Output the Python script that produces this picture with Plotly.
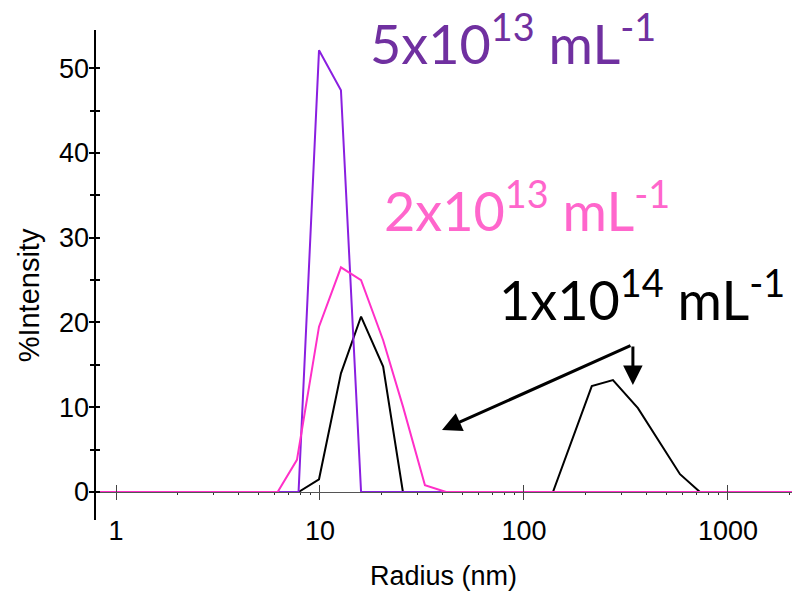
import plotly.graph_objects as go

# ---- data ----
black_r = [0.8, 7.85, 9.89, 12.67, 15.9, 20.4, 25.5, 138.7, 215, 273, 362, 582, 729, 2100]
black_i = [0, 0, 1.5, 14.0, 20.7, 14.8, 0, 0, 12.5, 13.2, 9.9, 2.1, 0, 0]

purple_r = [0.8, 7.85, 9.89, 12.67, 15.9, 2100]
purple_i = [0, 0, 52.1, 47.4, 0, 0]

pink_r = [0.8, 6.2, 7.71, 9.89, 12.67, 15.9, 20.4, 25.5, 32.7, 41.5, 2100]
pink_i = [0, 0, 3.8, 19.5, 26.5, 25.0, 17.9, 10.1, 0.8, 0, 0]

x_major = [1, 10, 100, 1000]
x_major_text = ["1", "10", "100", "1000"]
x_minor = [2, 3, 4, 5, 6, 7, 8, 9, 20, 30, 40, 50, 60, 70, 80, 90,
           200, 300, 400, 500, 600, 700, 800, 900, 2000]

label_5e13 = "5x10<sup>13</sup> mL<sup>-1</sup>"
label_2e13 = "2x10<sup>13</sup> mL<sup>-1</sup>"
label_1e14 = "1x10<sup>14</sup> mL<sup>-1</sup>"
y_title = "%Intensity"
x_title = "Radius (nm)"

PURPLE_LINE = "#8A1FE0"
PINK_LINE = "#FF2FC8"
PURPLE_TEXT = "#7030A0"
PINK_TEXT = "#FF66CC"

Y_RANGE = [-3.3, 54.5]
X_RANGE = [-0.103, 3.314]
zero_pos = (0 - Y_RANGE[0]) / (Y_RANGE[1] - Y_RANGE[0])

tick_font = dict(family="Liberation Sans, Arial, sans-serif", size=27, color="black")
title_font = dict(family="Liberation Sans, Arial, sans-serif", size=29, color="black")
ann_font = "Lato, Noto Sans, sans-serif"

fig = go.Figure()
fig.add_trace(go.Scatter(x=black_r, y=black_i, mode="lines",
                         line=dict(color="black", width=2), showlegend=False))
fig.add_trace(go.Scatter(x=purple_r, y=purple_i, mode="lines",
                         line=dict(color=PURPLE_LINE, width=2), showlegend=False))
fig.add_trace(go.Scatter(x=pink_r, y=pink_i, mode="lines",
                         line=dict(color=PINK_LINE, width=2), showlegend=False))
# helper traces for the overlay axes (inner halves of ticks, y labels)
fig.add_trace(go.Scatter(x=[None], y=[None], xaxis="x2", yaxis="y2",
                         mode="lines", showlegend=False, hoverinfo="skip"))
fig.add_trace(go.Scatter(x=[None], y=[None], xaxis="x2", yaxis="y3",
                         mode="lines", showlegend=False, hoverinfo="skip"))

fig.update_layout(
    width=792, height=595,
    margin=dict(l=95, r=0, t=30, b=75),
    paper_bgcolor="white", plot_bgcolor="white",
    xaxis=dict(
        type="log", range=X_RANGE, anchor="free", position=zero_pos,
        showline=True, linecolor="#555", linewidth=1,
        tickmode="array", tickvals=x_major, ticktext=x_major_text,
        ticks="outside", ticklen=7, tickwidth=1, tickcolor="#444",
        ticklabelstandoff=8,
        tickfont=tick_font, showgrid=False, zeroline=False,
        minor=dict(tickmode="array", tickvals=x_minor, ticks="outside",
                   ticklen=2, tickwidth=1, tickcolor="#333", showgrid=False),
        title=dict(text=x_title, font=tick_font, standoff=20),
    ),
    xaxis2=dict(
        type="log", overlaying="x", matches="x", anchor="free", position=zero_pos,
        showline=False, showgrid=False, zeroline=False, showticklabels=False,
        tickmode="array", tickvals=x_major, ticks="inside", ticklen=7,
        tickwidth=1, tickcolor="#444",
    ),
    yaxis=dict(
        range=Y_RANGE, anchor="free", position=0,
        showline=True, linecolor="black", linewidth=2,
        tick0=0, dtick=10, ticks="outside", ticklen=5, tickwidth=1.5, tickcolor="black",
        showticklabels=False,
        minor=dict(dtick=5, tick0=0, ticks="outside", ticklen=4, tickwidth=1.5,
                   tickcolor="black", showgrid=False),
        showgrid=False, zeroline=False,
    ),
    # tick labels only
    yaxis2=dict(
        range=Y_RANGE, overlaying="y", matches="y", anchor="free", position=0,
        side="left",
        showline=False, showgrid=False, zeroline=False, showticklabels=True,
        tickfont=tick_font, ticks="", ticklabelstandoff=6, tick0=0, dtick=10,
    ),
    # inner halves of the y ticks
    yaxis3=dict(
        range=Y_RANGE, overlaying="y", matches="y", anchor="free", position=0,
        side="left",
        showline=False, showgrid=False, zeroline=False, showticklabels=False,
        tick0=0, dtick=10, ticks="inside", ticklen=4, tickwidth=1.5, tickcolor="black",
        minor=dict(dtick=5, tick0=0, ticks="inside", ticklen=4, tickwidth=1.5,
                   tickcolor="black", showgrid=False),
    ),
)

annotations = [
    dict(x=-0.095, y=0.458, xref="paper", yref="paper", text=y_title, showarrow=False,
         textangle=-90, xanchor="center", yanchor="middle", font=title_font),
    dict(x=1.946, y=53.3, xref="x", yref="y", text=label_5e13, showarrow=False,
         xanchor="center", yanchor="middle",
         font=dict(family=ann_font, size=54, color=PURPLE_TEXT)),
    dict(x=2.015, y=33.6, xref="x", yref="y", text=label_2e13, showarrow=False,
         xanchor="center", yanchor="middle",
         font=dict(family=ann_font, size=54, color=PINK_TEXT)),
    dict(x=2.578, y=23.1, xref="x", yref="y", text=label_1e14, showarrow=False,
         xanchor="center", yanchor="middle",
         font=dict(family=ann_font, size=54, color="black")),
    dict(x=1.598, y=7.31, xref="x", yref="y", text="", showarrow=True,
         ax=190, ay=-85, axref="pixel", ayref="pixel",
         arrowhead=2, arrowsize=1.3, arrowwidth=3, arrowcolor="black", standoff=0),
    dict(x=2.534, y=12.62, xref="x", yref="y", text="", showarrow=True,
         ax=0, ay=-40, axref="pixel", ayref="pixel",
         arrowhead=2, arrowsize=1.3, arrowwidth=3, arrowcolor="black", standoff=0),
]
fig.update_layout(annotations=annotations)

fig.write_html("out.html")
